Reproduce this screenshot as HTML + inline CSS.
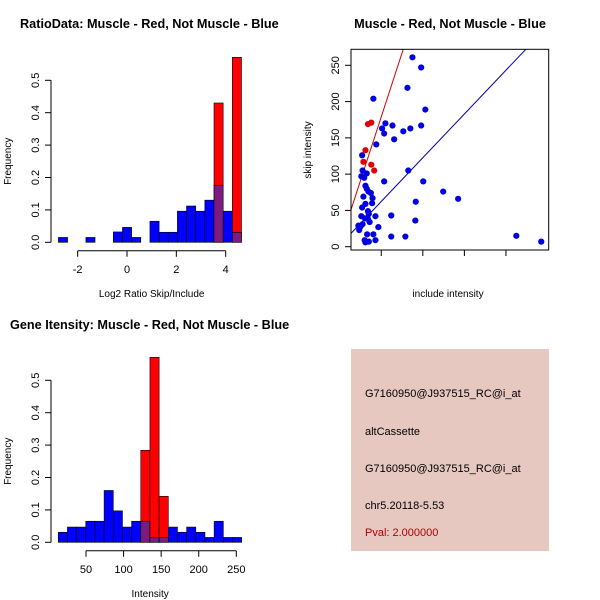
<!DOCTYPE html>
<html><head><meta charset="utf-8"><style>
body{margin:0;background:#fff}
svg{display:block;font-family:"Liberation Sans",sans-serif}
</style></head><body>
<svg id="c" width="600" height="600" viewBox="0 0 600 600" xmlns="http://www.w3.org/2000/svg">
<rect width="600" height="600" fill="#fff"/>
<text x="20" y="28" font-size="12.7" font-weight="bold">RatioData: Muscle - Red, Not Muscle - Blue</text>
<text x="450" y="28" font-size="12.7" font-weight="bold" text-anchor="middle">Muscle - Red, Not Muscle - Blue</text>
<text x="10" y="329" font-size="12.7" font-weight="bold">Gene Itensity: Muscle - Red, Not Muscle - Blue</text>
<g id="h1"></g>
<g id="h2"></g>
<g id="sc"></g>
<g>
<rect x="351" y="349" width="198" height="202" fill="#e6c8c1"/>
<text x="365" y="397" font-size="11">G7160950@J937515_RC@i_at</text>
<text x="365" y="435" font-size="11">altCassette</text>
<text x="365" y="472" font-size="11">G7160950@J937515_RC@i_at</text>
<text x="365" y="509" font-size="11">chr5.20118-5.53</text>
<text x="365" y="536" font-size="11" fill="#b00000">Pval: 2.000000</text>
</g>
</svg>
<script>
// Ratio histogram data
const ratioBinStart = -2.78;
const ratioBinWidth = 0.371;
const ratioBlue = [0.015,0,0,0.015,0,0,0.032,0.046,0.015,0,0.065,0.031,0.031,0.096,0.112,0.096,0.13,0.176,0.096,0.031];
const ratioRed  = [0,0,0,0,0,0,0,0,0,0,0,0,0,0,0,0,0,0.43,0,0.571];
const ratioTicks = [-2,0,2,4];
// Intensity histogram data
const intBinStart = 13.1;
const intBinWidth = 12.2;
const intBlue = [0.031,0.047,0.047,0.065,0.065,0.16,0.097,0.047,0.065,0.065,0.015,0.015,0.047,0.031,0.047,0.031,0.015,0.065,0.015,0.015];
const intRed  = [0,0,0,0,0,0,0,0,0,0.284,0.571,0.142,0,0,0,0,0,0,0,0];
const intTicks = [50,100,150,200,250];
const freqTicks = [0,0.1,0.2,0.3,0.4,0.5];
const freqLabels = ["0.0","0.1","0.2","0.3","0.4","0.5"];
// Scatter data
const includeBlue = [17.5,19.6,16.3,8.1,20.6,11.0,12.7,19.6,10.2,17.0,15.3,10.7,13.1,8.8,5.4,5.5,16.5,5.2,5.9,6.5,10.7,20.1,6.2,6.5,6.9,7.5,7.9,24.9,28.5,5.7,18.3,7.8,6.2,5.4,6.8,7.0,12.4,5.2,8.6,6.1,6.8,7.2,18.2,4.5,5.5,5.0,4.7,9.3,6.6,8.1,12.4,15.8,42.5,48.5,6.0,6.2,7.0,8.6];
const skipBlue = [261,247,219,204,189,170,167,167,163,163,159,156,148,141,126,105,105,97,95,101,90,90,84,80,76,74,67,76,66,69,62,60,59,54,49,45,43,42,42,39,38,34,36,29,31,28,23,27,17,17,14,14,15,7,9,6,7,9];
const includeRed = [6.8,7.6,6.2,5.7,7.6,8.3];
const skipRed = [169,171,133,117,113,105];
const redFit = [3,17.6];
const blueFit = [2,6.03];
const scXTicks = [10,20,30,40];
const scYTicks = [0,50,100,150,200,250];

const NS="http://www.w3.org/2000/svg";
function mk(tag,attrs,parent,txt){const e=document.createElementNS(NS,tag);for(const k in attrs)e.setAttribute(k,attrs[k]);if(txt!==undefined)e.textContent=txt;parent.appendChild(e);return e;}

function hist(g,y0,xs,start,w,blue,red,ticks,xlabel){
  const ys=v=>y0-v*324;
  const n=blue.length;
  for(let i=0;i<n;i++){
    const xa=xs(start+i*w), xb=xs(start+(i+1)*w);
    if(red[i]>0){
      const r=mk('rect',{x:xa,y:ys(red[i]),width:xb-xa,height:y0-ys(red[i]),fill:'#ff0000',stroke:'#000','stroke-width':0.6},g);
      
      
    }
    if(blue[i]>0){
      const both=red[i]>0;
      const b=mk('rect',{x:xa,y:ys(blue[i]),width:xb-xa,height:y0-ys(blue[i]),fill:both?'#7d1a80':'#0000ff',stroke:'#000','stroke-width':0.6},g);
      
      
    }
  }
  mk('line',{x1:51,y1:ys(0),x2:51,y2:ys(0.5),stroke:'#000'},g);
  freqTicks.forEach((t,i)=>{
    mk('line',{x1:45,y1:ys(t),x2:51,y2:ys(t),stroke:'#000'},g);
    const tx=mk('text',{x:0,y:0,'font-size':11,'text-anchor':'middle',transform:`translate(39,${ys(t)}) rotate(-90)`},g,freqLabels[i]);
    
    
  });
  const yl=mk('text',{x:0,y:0,'font-size':10,'text-anchor':'middle',transform:`translate(11,${ys(0.25)}) rotate(-90)`},g,'Frequency');
  
  
  const ay=y0+8.5;
  mk('line',{x1:xs(ticks[0]),y1:ay,x2:xs(ticks[ticks.length-1]),y2:ay,stroke:'#000'},g);
  ticks.forEach(t=>{
    mk('line',{x1:xs(t),y1:ay,x2:xs(t),y2:ay+6,stroke:'#000'},g);
    const tx=mk('text',{x:xs(t),y:ay+22,'font-size':11,'text-anchor':'middle'},g,String(t));
    
    
  });
  const xl=mk('text',{x:(xs(ticks[0])+xs(ticks[ticks.length-1]))/2+(xlabel==='Intensity'?-11:0),y:ay+46,'font-size':10,'text-anchor':'middle'},g,xlabel);
  
  
}
hist(document.getElementById('h1'),242.3,v=>127+v*24.67,ratioBinStart,ratioBinWidth,ratioBlue,ratioRed,ratioTicks,'Log2 Ratio Skip/Include');
hist(document.getElementById('h2'),542.3,v=>86+(v-50)*0.7515,intBinStart,intBinWidth,intBlue,intRed,intTicks,'Intensity');

(function(){
  const g=document.getElementById('sc');
  const L=351,R=548.7,T=49.3,B=250;
  const xs=v=>339.7+v*4.156, ys=v=>246.7-v*0.7256;
  const cp=mk('clipPath',{id:'scclip'},g);
  mk('rect',{x:L,y:T,width:R-L,height:B-T},cp);
  const lg=mk('g',{'clip-path':'url(#scclip)'},g);
  const x0=0,x1=60;
  const rl=mk('line',{x1:xs(x0),y1:ys(redFit[0]+redFit[1]*x0),x2:xs(x1),y2:ys(redFit[0]+redFit[1]*x1),stroke:'#cc0000','stroke-width':1},lg);
  
  
  const bl=mk('line',{x1:xs(x0),y1:ys(blueFit[0]+blueFit[1]*x0),x2:xs(x1),y2:ys(blueFit[0]+blueFit[1]*x1),stroke:'#0000aa','stroke-width':1},lg);
  
  
  includeBlue.forEach((v,i)=>{
    const c=mk('circle',{cx:xs(v),cy:ys(skipBlue[i]),r:3.1,fill:'#0000e0'},g);
    
    
  });
  includeRed.forEach((v,i)=>{
    const c=mk('circle',{cx:xs(v),cy:ys(skipRed[i]),r:3.1,fill:'#e00000'},g);
    
    
  });
  mk('rect',{x:L,y:T,width:R-L,height:B-T,fill:'none',stroke:'#000'},g);
  scXTicks.forEach(t=>{
    mk('line',{x1:xs(t),y1:B,x2:xs(t),y2:B+6,stroke:'#000'},g);
    const tx=mk('text',{x:xs(t),y:B+22,'font-size':11,'text-anchor':'middle',fill:'#fff'},g,String(t));
    
    
  });
  scYTicks.forEach(t=>{
    mk('line',{x1:L-6,y1:ys(t),x2:L,y2:ys(t),stroke:'#000'},g);
    const tx=mk('text',{x:0,y:0,'font-size':11,'text-anchor':'middle',transform:`translate(${L-12},${ys(t)}) rotate(-90)`},g,String(t));
    
    
  });
  const xl=mk('text',{x:448,y:297,'font-size':10,'text-anchor':'middle'},g,'include intensity');
  
  
  const yl=mk('text',{x:0,y:0,'font-size':10,'text-anchor':'middle',transform:'translate(311,150) rotate(-90)'},g,'skip intensity');
  
  
})();
</script>
</body></html>
